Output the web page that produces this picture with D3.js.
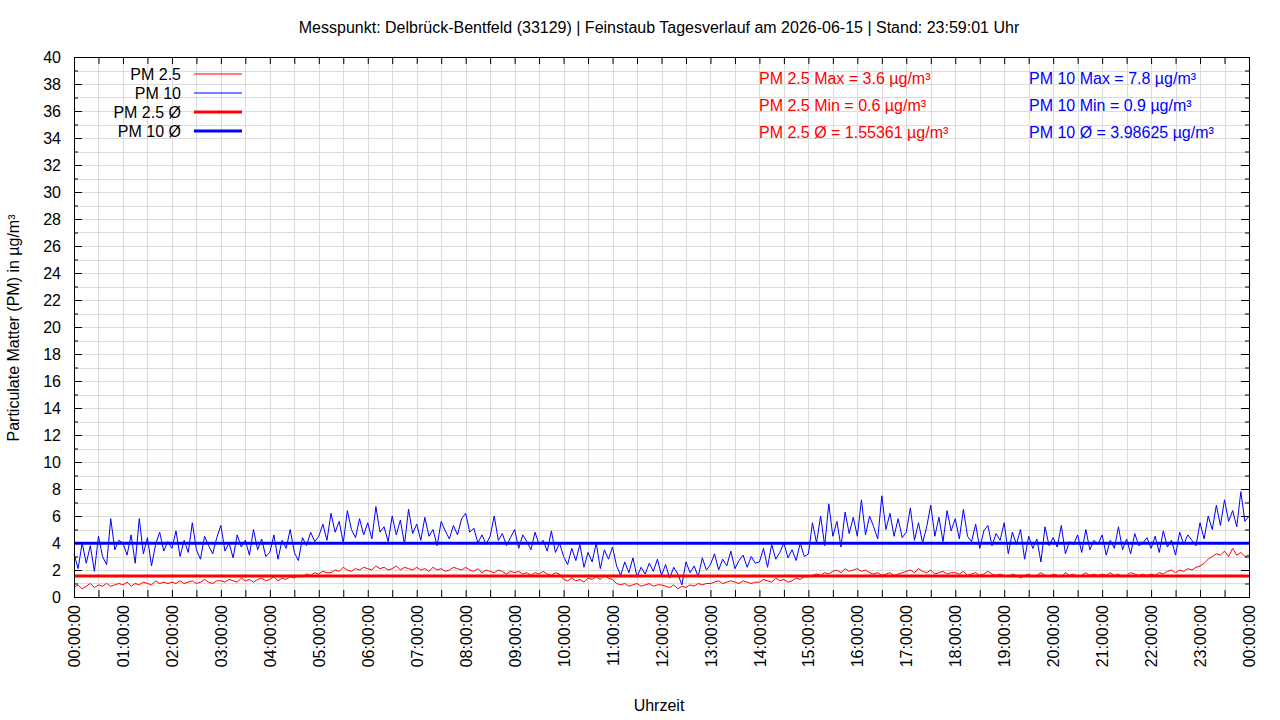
<!DOCTYPE html>
<html>
<head>
<meta charset="utf-8">
<script src="https://cdn.jsdelivr.net/npm/d3@7"></script>
<style>
  body { margin: 0; background: #fff; }
  svg { font-family: "Liberation Sans", Arial, sans-serif; }
</style>
</head>
<body>
<div id="chart"></div>
<script>
// values every 5 minutes, 00:00 .. 24:00 (one row per hour)
var pm10 = [
  3.2, 2.1, 4.0, 2.5, 3.8, 1.9, 4.5, 3.0, 2.4, 5.8, 3.5, 4.2,
  4.0, 3.1, 4.6, 2.5, 5.8, 3.2, 4.4, 2.3, 3.9, 4.8, 3.4, 4.1,
  3.6, 4.9, 3.0, 4.2, 3.3, 5.5, 3.5, 2.8, 4.5, 3.8, 3.2, 4.4,
  5.3, 3.4, 4.0, 2.9, 4.6, 3.7, 4.2, 3.1, 5.0, 3.5, 4.3, 3.0,
  3.3, 4.6, 2.8, 4.2, 3.6, 5.0, 3.3, 2.7, 4.4, 3.8, 4.8, 4.1,
  4.5, 5.4, 4.2, 6.2, 4.8, 5.6, 4.0, 6.4, 5.0, 4.4, 5.8, 4.6,
  5.5, 4.3, 6.7, 4.8, 5.2, 4.1, 6.0, 4.6, 5.7, 3.9, 6.5, 4.7,
  5.4, 4.2, 5.9, 4.5, 5.0, 3.8, 5.6, 4.9, 4.3, 5.3, 4.6, 5.8,
  6.2, 4.8, 5.1, 4.0, 4.6, 3.9, 4.5, 6.0, 4.2, 4.7, 3.8, 4.4,
  5.0, 3.6, 4.6, 4.1, 3.5, 4.8, 3.9, 4.2, 3.4, 4.9, 3.3, 4.0,
  3.0, 2.4, 3.6, 2.7, 3.9, 2.2, 3.3, 2.6, 4.0, 2.1, 3.5, 2.8,
  3.7, 2.3, 1.6, 2.6, 1.8, 2.9, 1.5, 2.2, 1.7, 2.5, 1.9, 2.8,
  1.6, 2.4, 1.4, 2.2, 1.7, 0.9, 2.6, 1.8, 2.3, 1.5, 2.9, 2.0,
  2.4, 3.2, 2.0, 2.8, 2.3, 3.4, 2.1, 2.7, 3.1, 2.2, 3.0, 2.5,
  2.6, 3.6, 2.2, 3.9, 2.8, 3.3, 4.0, 2.9, 3.5, 2.7, 4.0, 3.0,
  3.2, 5.5, 4.0, 6.0, 3.8, 6.9, 4.5, 5.6, 3.7, 6.3, 4.7, 5.9,
  4.5, 7.2, 4.6, 6.0, 5.2, 4.3, 7.5, 5.0, 6.2, 4.5, 5.8, 4.4,
  4.8, 6.6, 4.2, 5.5, 4.0, 5.2, 6.8, 4.5, 5.9, 4.1, 6.4, 4.9,
  5.8, 4.3, 6.5, 4.5, 4.1, 5.4, 3.6, 4.9, 5.3, 3.8, 4.7, 4.2,
  5.5, 3.2, 4.8, 3.9, 5.0, 2.8, 4.5, 3.6, 4.3, 2.6, 5.2, 3.8,
  4.4, 3.7, 5.3, 3.2, 4.1, 3.9, 4.6, 3.3, 5.0, 3.5, 4.2, 3.9,
  4.6, 3.1, 4.2, 3.6, 5.2, 3.5, 4.3, 3.2, 4.7, 3.8, 4.0, 4.4,
  3.6, 4.5, 3.3, 4.9, 3.7, 4.2, 3.1, 4.8, 3.9, 4.6, 4.2, 3.8,
  5.5, 4.3, 6.0, 5.0, 6.8, 5.3, 7.2, 5.6, 6.4, 5.2, 7.8, 5.6,
  6.0
];

var pm25 = [
  0.7, 0.9, 0.6, 0.8, 1.0, 0.7, 0.9, 0.8, 1.0, 0.8, 0.9, 1.0,
  0.9, 1.1, 0.8, 1.0, 0.9, 1.1, 1.0, 0.9, 1.2, 1.0, 1.1, 1.0,
  1.1, 1.0, 1.2, 1.0, 1.1, 1.2, 1.0, 1.1, 1.3, 1.1, 1.0, 1.2,
  1.2, 1.1, 1.3, 1.2, 1.1, 1.4, 1.2, 1.3, 1.1, 1.3, 1.4, 1.2,
  1.3, 1.5, 1.2, 1.4, 1.3, 1.5, 1.4, 1.6, 1.5, 1.7, 1.6, 1.8,
  1.7, 1.9, 1.8, 1.8, 2.0, 1.9, 2.2, 2.0, 1.9, 2.1, 2.0, 2.2,
  2.1, 2.0, 2.3, 2.1, 2.2, 2.0, 2.1, 2.3, 2.0, 2.2, 2.1, 2.0,
  2.2, 2.0, 2.1, 1.9, 2.2, 2.0, 2.1, 1.9, 2.0, 2.2, 2.1, 2.0,
  2.2, 2.0, 1.9, 2.1, 1.8, 2.0, 1.9, 1.8, 2.0, 1.9, 1.7, 1.9,
  1.8, 1.9, 1.7, 1.8, 1.6, 1.8, 1.7, 1.9, 1.7, 1.6, 1.8, 1.7,
  1.3, 1.2, 1.4, 1.2, 1.3, 1.1, 1.4, 1.3, 1.5, 1.3, 1.6, 1.4,
  1.3, 1.0, 0.9, 1.0, 0.8, 0.9, 1.0, 0.8, 0.9, 1.0, 0.8, 0.9,
  0.9, 0.8, 0.7, 0.9, 0.6, 0.8, 0.7, 0.9, 0.8, 1.0, 0.9, 1.0,
  1.0, 1.1, 1.2, 1.0, 1.1, 1.2, 1.1, 1.0, 1.2, 1.1, 1.0, 1.1,
  1.1, 1.3, 1.2, 1.1, 1.4, 1.2, 1.3, 1.1, 1.2, 1.4, 1.3, 1.5,
  1.5, 1.6, 1.7, 1.6, 1.8, 1.7, 1.9, 2.0, 1.8, 2.1, 1.9, 2.0,
  2.1, 1.9, 2.0, 1.8, 1.7, 1.8, 1.6, 1.7, 1.8, 1.6, 1.7, 1.8,
  1.9, 2.0, 1.8, 2.1, 1.9, 1.8, 2.0, 1.7, 1.8, 1.9, 1.7, 1.8,
  1.8, 1.7, 1.9, 1.6, 1.7, 1.8, 1.6, 1.7, 1.9, 1.7, 1.6, 1.7,
  1.6, 1.5, 1.7, 1.6, 1.4, 1.6, 1.7, 1.5, 1.6, 1.8, 1.6, 1.5,
  1.7, 1.6, 1.5, 1.8, 1.6, 1.7, 1.5, 1.6, 1.8, 1.6, 1.7, 1.6,
  1.7, 1.6, 1.8, 1.6, 1.7, 1.5, 1.6, 1.8, 1.7, 1.6, 1.7, 1.6,
  1.7, 1.6, 1.8, 1.7, 1.9, 2.0, 1.8, 2.0, 1.9, 2.1, 2.0, 2.2,
  2.3, 2.5, 2.8, 3.0, 3.2, 3.1, 3.4, 3.0, 3.6, 3.1, 3.3, 3.0,
  3.1
];

var stepMinutes = 5;
var pm25Mean = 1.55361;
var pm10Mean = 3.98625;

var legendLabels = ["PM 2.5", "PM 10", "PM 2.5 Ø", "PM 10 Ø"];
var statsPm25 = ["PM 2.5 Max = 3.6 µg/m³", "PM 2.5 Min = 0.6 µg/m³", "PM 2.5 Ø = 1.55361 µg/m³"];
var statsPm10 = ["PM 10 Max = 7.8 µg/m³", "PM 10 Min = 0.9 µg/m³", "PM 10 Ø = 3.98625 µg/m³"];

var title = "Messpunkt: Delbrück-Bentfeld (33129) | Feinstaub Tagesverlauf am 2026-06-15 | Stand: 23:59:01 Uhr";

var width = 1280, height = 720;
var margin = {top: 57, right: 31, bottom: 123, left: 74};

var t0 = new Date(2026, 5, 15, 0, 0, 0);
var t1 = new Date(2026, 5, 16, 0, 0, 0);

var x = d3.scaleTime()
    .domain([t0, t1])
    .range([margin.left, width - margin.right]);

var y = d3.scaleLinear()
    .domain([0, 40])
    .range([height - margin.bottom, margin.top]);

var svg = d3.select("#chart").append("svg")
    .attr("width", width)
    .attr("height", height);

var plotW = width - margin.left - margin.right;
var plotH = height - margin.top - margin.bottom;

// grid
var halfHours = d3.timeMinute.every(30).range(t0, d3.timeMinute.offset(t1, 1));
var units = d3.range(0, 41, 1);

svg.append("g")
  .selectAll("line")
  .data(halfHours)
  .join("line")
    .attr("x1", d => Math.round(x(d)) + 0.5)
    .attr("x2", d => Math.round(x(d)) + 0.5)
    .attr("y1", margin.top)
    .attr("y2", height - margin.bottom)
    .attr("stroke", "#dcdcdc");

svg.append("g")
  .selectAll("line")
  .data(units)
  .join("line")
    .attr("x1", margin.left)
    .attr("x2", width - margin.right)
    .attr("y1", d => Math.round(y(d)) + 0.5)
    .attr("y2", d => Math.round(y(d)) + 0.5)
    .attr("stroke", "#dcdcdc");

// data lines
var toPoints = arr => arr.map((v, i) => [d3.timeMinute.offset(t0, i * stepMinutes), v]);

var line = d3.line()
    .x(d => x(d[0]))
    .y(d => y(d[1]));

svg.append("path")
    .datum(toPoints(pm25))
    .attr("d", line)
    .attr("fill", "none")
    .attr("stroke", "#ff0000")
    .attr("stroke-width", 1);

svg.append("path")
    .datum(toPoints(pm10))
    .attr("d", line)
    .attr("fill", "none")
    .attr("stroke", "#0000ff")
    .attr("stroke-width", 1);

// mean lines
svg.append("line")
    .attr("x1", margin.left).attr("x2", width - margin.right)
    .attr("y1", y(pm10Mean)).attr("y2", y(pm10Mean))
    .attr("stroke", "#0000ff").attr("stroke-width", 3);

svg.append("line")
    .attr("x1", margin.left).attr("x2", width - margin.right)
    .attr("y1", y(pm25Mean)).attr("y2", y(pm25Mean))
    .attr("stroke", "#ff0000").attr("stroke-width", 3);

// axes (gnuplot style: ticks inside, mirrored)
var fmt = d3.timeFormat("%H:%M:%S");

var xAxis = d3.axisBottom(x)
    .tickValues(halfHours)
    .tickSize(-7)
    .tickPadding(8)
    .tickFormat(d => d.getMinutes() === 0 ? fmt(d) : "");

var gx = svg.append("g")
    .attr("transform", "translate(0," + (height - margin.bottom) + ")")
    .call(xAxis);
gx.select(".domain").remove();
gx.selectAll("text")
    .attr("y", 0)
    .attr("x", -8)
    .attr("dy", "0.35em")
    .attr("transform", "rotate(-90)")
    .style("text-anchor", "end")
    .style("font-size", "16px")
    .style("font-family", "Liberation Sans, Arial, sans-serif")
    .attr("fill", "#000");

var gxTop = svg.append("g")
    .attr("transform", "translate(0," + margin.top + ")")
    .call(d3.axisTop(x).tickValues(halfHours).tickSize(-7).tickFormat(""));
gxTop.select(".domain").remove();

var yAxis = d3.axisLeft(y)
    .tickValues(d3.range(0, 41, 2))
    .tickSize(-8)
    .tickPadding(13);

var gy = svg.append("g")
    .attr("transform", "translate(" + margin.left + ",0)")
    .call(yAxis);
gy.select(".domain").remove();
gy.selectAll("text")
    .style("font-size", "16px")
    .style("font-family", "Liberation Sans, Arial, sans-serif")
    .attr("fill", "#000");

var gyMinor = svg.append("g")
    .attr("transform", "translate(" + margin.left + ",0)")
    .call(d3.axisLeft(y).tickValues(d3.range(1, 40, 2)).tickSize(-4).tickFormat(""));
gyMinor.select(".domain").remove();

var gyR = svg.append("g")
    .attr("transform", "translate(" + (width - margin.right) + ",0)")
    .call(d3.axisRight(y).tickValues(d3.range(0, 41, 2)).tickSize(-8).tickFormat(""));
gyR.select(".domain").remove();

var gyRMinor = svg.append("g")
    .attr("transform", "translate(" + (width - margin.right) + ",0)")
    .call(d3.axisRight(y).tickValues(d3.range(1, 40, 2)).tickSize(-4).tickFormat(""));
gyRMinor.select(".domain").remove();

// frame
svg.append("rect")
    .attr("x", margin.left + 0.5)
    .attr("y", margin.top + 0.5)
    .attr("width", plotW)
    .attr("height", plotH)
    .attr("fill", "none")
    .attr("stroke", "#000");

// legend
var legendColors = ["#ff0000", "#0000ff", "#ff0000", "#0000ff"];
var legendWidths = [1, 1, 3, 3];
legendLabels.forEach(function(lbl, i) {
  var ly = 74 + i * 19;
  svg.append("text")
      .attr("x", 181).attr("y", ly + 5.5)
      .attr("text-anchor", "end")
      .style("font-size", "16px")
      .text(lbl);
  svg.append("line")
      .attr("x1", 194).attr("x2", 242)
      .attr("y1", ly).attr("y2", ly)
      .attr("stroke", legendColors[i])
      .attr("stroke-width", legendWidths[i]);
});

// stats
statsPm25.forEach(function(s, i) {
  svg.append("text")
      .attr("x", 759).attr("y", 84 + i * 27)
      .style("font-size", "16px")
      .attr("fill", "#ff0000")
      .text(s);
});
statsPm10.forEach(function(s, i) {
  svg.append("text")
      .attr("x", 1029).attr("y", 84 + i * 27)
      .style("font-size", "16px")
      .attr("fill", "#0000ff")
      .text(s);
});

// titles
svg.append("text")
    .attr("x", 659).attr("y", 33)
    .attr("text-anchor", "middle")
    .style("font-size", "16px")
    .text(title);

svg.append("text")
    .attr("x", 659).attr("y", 711)
    .attr("text-anchor", "middle")
    .style("font-size", "16px")
    .text("Uhrzeit");

svg.append("text")
    .attr("transform", "translate(19,328) rotate(-90)")
    .attr("text-anchor", "middle")
    .style("font-size", "16px")
    .text("Particulate Matter (PM) in µg/m³");
</script>
</body>
</html>
